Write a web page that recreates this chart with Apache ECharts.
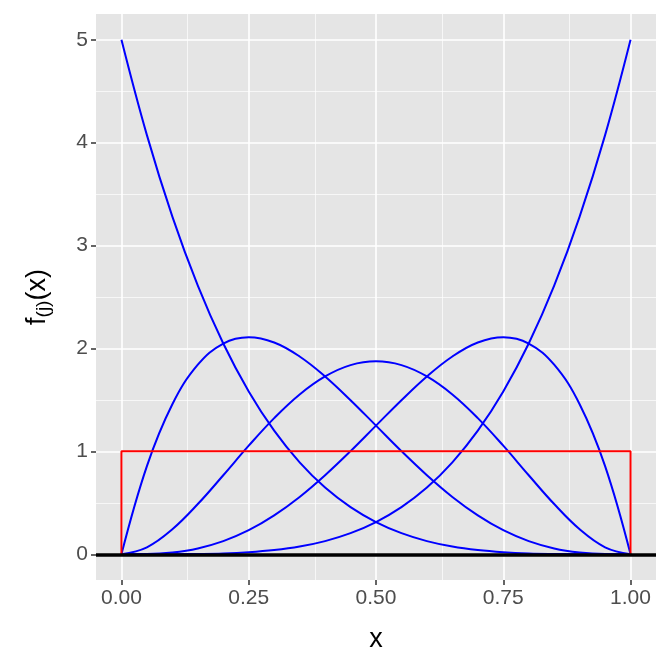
<!DOCTYPE html>
<html>
<head>
<meta charset="utf-8">
<script src="https://cdn.jsdelivr.net/npm/echarts@6/dist/echarts.min.js"></script>
<style>
  html, body { margin: 0; padding: 0; background: #fff; }
  #chart { width: 672px; height: 672px; }
</style>
</head>
<body>
<div id="chart"></div>
<script>
// densities of the order statistics at x = 0, 0.05, ..., 1
var xs = [0, 0.05, 0.1, 0.15, 0.2, 0.25, 0.3, 0.35, 0.4, 0.45, 0.5,
          0.55, 0.6, 0.65, 0.7, 0.75, 0.8, 0.85, 0.9, 0.95, 1];
var f1 = [5, 4.073, 3.281, 2.61, 2.048, 1.582, 1.201, 0.893, 0.648, 0.458, 0.313,
          0.205, 0.128, 0.075, 0.041, 0.02, 0.008, 0.003, 0.001, 0, 0];
var f2 = [0, 0.857, 1.458, 1.842, 2.048, 2.109, 2.058, 1.922, 1.728, 1.497, 1.25,
          1.002, 0.768, 0.557, 0.378, 0.234, 0.128, 0.057, 0.018, 0.002, 0];
var f3 = [0, 0.068, 0.243, 0.488, 0.768, 1.055, 1.323, 1.553, 1.728, 1.838, 1.875,
          1.838, 1.728, 1.553, 1.323, 1.055, 0.768, 0.488, 0.243, 0.068, 0];
var f4 = [0, 0.002, 0.018, 0.057, 0.128, 0.234, 0.378, 0.557, 0.768, 1.002, 1.25,
          1.497, 1.728, 1.922, 2.058, 2.109, 2.048, 1.842, 1.458, 0.857, 0];
var f5 = [0, 0, 0.001, 0.003, 0.008, 0.02, 0.041, 0.075, 0.128, 0.205, 0.313,
          0.458, 0.648, 0.893, 1.201, 1.582, 2.048, 2.61, 3.281, 4.073, 5];
// parent uniform density
var unifX = [0, 0, 1, 1];
var unifY = [0, 1, 1, 0];

var xTicks = [0, 0.25, 0.5, 0.75, 1];
var xMinor = [0.125, 0.375, 0.625, 0.875];
var yTicks = [0, 1, 2, 3, 4, 5];
var yMinor = [0.5, 1.5, 2.5, 3.5, 4.5];

function pairs(x, y) {
    return x.map(function (v, i) { return [v, y[i]]; });
}

var chart = echarts.init(document.getElementById('chart'));

var gridLines = [];
xMinor.forEach(function (v) { gridLines.push({xAxis: v, lineStyle: {color: '#fff', width: 0.7, type: 'solid'}}); });
yMinor.forEach(function (v) { gridLines.push({yAxis: v, lineStyle: {color: '#fff', width: 0.7, type: 'solid'}}); });
xTicks.forEach(function (v) { gridLines.push({xAxis: v, lineStyle: {color: '#fff', width: 1.6, type: 'solid'}}); });
yTicks.forEach(function (v) { gridLines.push({yAxis: v, lineStyle: {color: '#fff', width: 1.6, type: 'solid'}}); });

var curves = [f1, f2, f3, f4, f5].map(function (f) {
    return {
        type: 'line',
        data: pairs(xs, f),
        smooth: 0.4,
        showSymbol: false,
        silent: true,
        z: 3,
        lineStyle: {color: '#0000ff', width: 2}
    };
});

var option = {
    animation: false,
    backgroundColor: '#fff',
    textStyle: {fontFamily: 'Liberation Sans, Arial, sans-serif'},
    grid: {left: 96, right: 16, top: 14, bottom: 92, show: true, backgroundColor: '#e5e5e5', borderWidth: 0},
    xAxis: {
        type: 'value',
        min: -0.05, max: 1.05,
        axisLine: {show: false, onZero: false},
        splitLine: {show: false},
        axisTick: {show: true, customValues: xTicks, length: 5, lineStyle: {color: '#333', width: 1.5}},
        axisLabel: {
            customValues: xTicks, color: '#4d4d4d', fontSize: 21, margin: 8,
            formatter: function (v) { return v.toFixed(2); }
        },
        name: 'x', nameLocation: 'middle', nameGap: 46,
        nameTextStyle: {color: '#000', fontSize: 27}
    },
    yAxis: {
        type: 'value',
        min: -0.25, max: 5.25,
        axisLine: {show: false, onZero: false},
        splitLine: {show: false},
        axisTick: {show: true, customValues: yTicks, length: 5, lineStyle: {color: '#333', width: 1.5}},
        axisLabel: {customValues: yTicks, color: '#4d4d4d', fontSize: 21, margin: 8}
    },
    graphic: [{
        type: 'text',
        x: 38, y: 297,
        rotation: Math.PI / 2,
        style: {
            text: '{a|f}{b|(j)}{a|(x)}',
            textAlign: 'center',
            textVerticalAlign: 'middle',
            rich: {
                a: {fontSize: 27, fill: '#000', fontFamily: 'Liberation Sans, Arial, sans-serif'},
                b: {fontSize: 19, fill: '#000', fontFamily: 'Liberation Sans, Arial, sans-serif', padding: [12, 0, 0, 0]}
            }
        }
    }],
    series: [{
        type: 'line',
        data: [],
        silent: true,
        z: 1,
        markLine: {silent: true, z: 1, symbol: 'none', label: {show: false}, animation: false, data: gridLines}
    }].concat(curves).concat([{
        type: 'line',
        data: pairs(unifX, unifY),
        showSymbol: false,
        silent: true,
        z: 4,
        lineStyle: {color: '#ff0000', width: 2}
    }, {
        type: 'line',
        data: [],
        silent: true,
        z: 6,
        markLine: {
            silent: true, z: 6, symbol: 'none', label: {show: false}, animation: false,
            data: [{yAxis: 0, lineStyle: {color: '#000', width: 3.5, type: 'solid'}}]
        }
    }])
};
chart.setOption(option);
</script>
</body>
</html>
